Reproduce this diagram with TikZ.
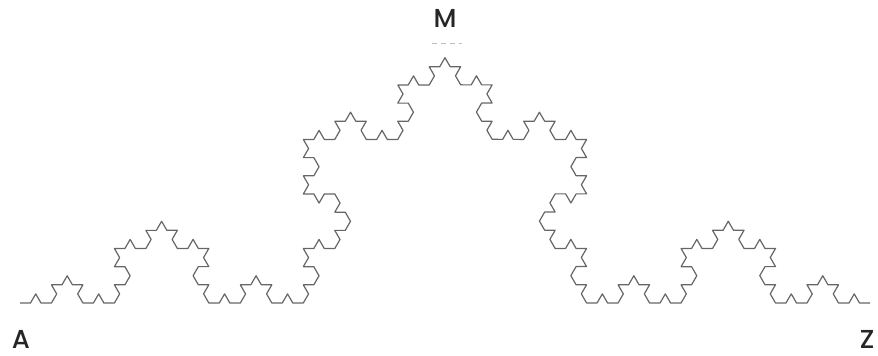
\documentclass[tikz,border=0pt]{standalone}
\usepackage{fontspec}
\setmainfont{Poppins}[BoldFont={* Medium}]
\usepackage{tikz}
\usetikzlibrary{decorations.fractals}

\begin{document}
\begin{tikzpicture}[x=1pt, y=-1pt,
  lbl/.style={font=\fontsize{26}{29}\selectfont\bfseries, text=black!85, inner sep=0pt},
  koch/.style={draw=black!60, line width=1.2pt, line join=round,
    decoration=Koch snowflake}]
  \useasboundingbox (0,0) rectangle (878,356);
  \coordinate (start) at (20,303);
  \coordinate (end) at (870,303);
  \node[lbl] (A) at (21,339) {A};
  \node[lbl] (Z) at (867,339) {Z};
  \node[lbl] (M) at (445,18) {M};
  % guide under the apex label
  \draw[black!25, dashed, line width=0.8pt, dash pattern=on 5pt off 4pt] (432,43) -- (462,43);
  % level 4 Koch curve
  \path[koch] decorate{decorate{decorate{decorate{(start) -- (end)}}}};
\end{tikzpicture}
\end{document}
